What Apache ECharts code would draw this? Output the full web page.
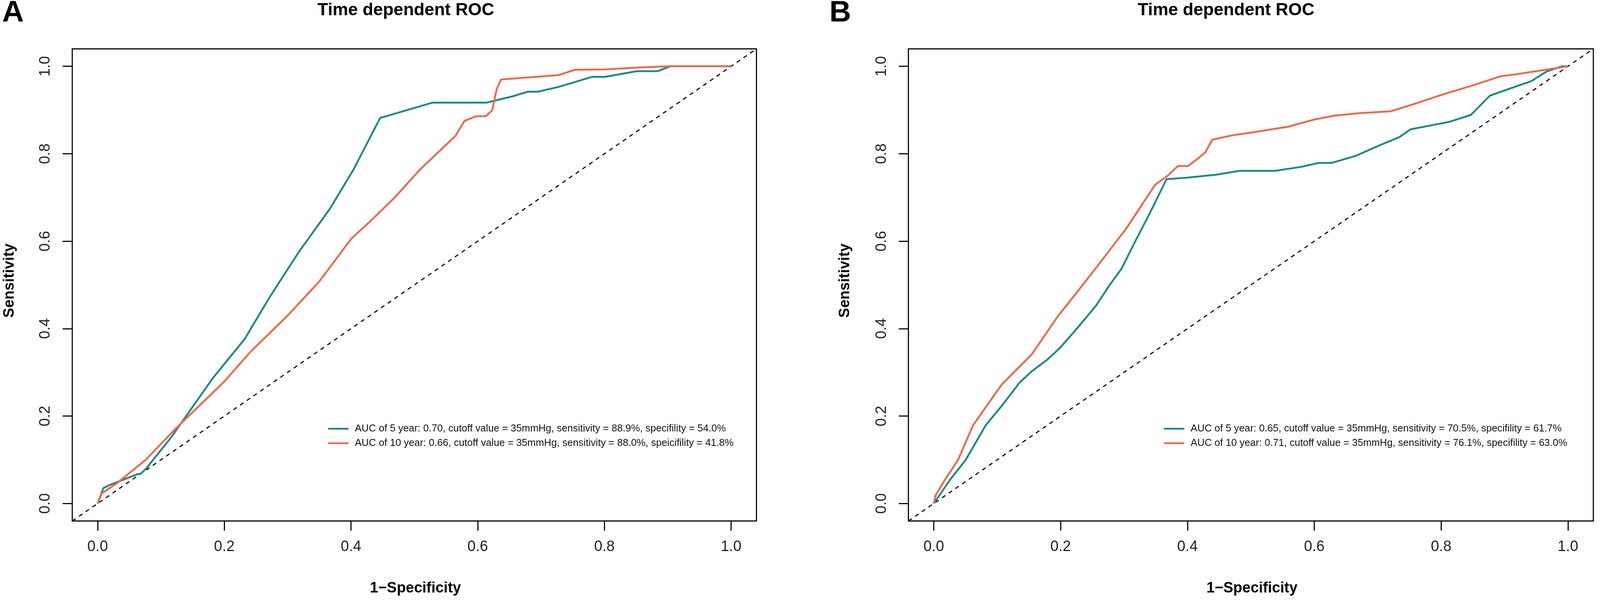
<!DOCTYPE html>
<html>
<head>
<meta charset="utf-8">
<script src="https://cdn.jsdelivr.net/npm/echarts@6.0.0/dist/echarts.min.js"></script>
<style>
html,body{margin:0;padding:0;background:#fff;overflow:hidden;}
#chart{width:100vw;height:100vh;}
</style>
</head>
<body>
<div id="chart"></div>
<script>
// ---------- data ----------
const tickValues = [0, 0.2, 0.4, 0.6, 0.8, 1.0];
const axisRange = [-0.04, 1.04];
const diagonal = [-0.04, 1.04];

const panelLabels = ['A', 'B'];
const panelTitles = ['Time dependent ROC', 'Time dependent ROC'];
const xTitle = '1\u2212Specificity';
const yTitle = 'Sensitivity';

const namesA = [
  'AUC of 5 year: 0.70, cutoff value = 35mmHg, sensitivity = 88.9%, specifility = 54.0%',
  'AUC of 10 year: 0.66, cutoff value = 35mmHg, sensitivity = 88.0%, speicifility = 41.8%'
];
const namesB = [
  'AUC of 5 year: 0.65, cutoff value = 35mmHg, sensitivity = 70.5%, specifility = 61.7%',
  'AUC of 10 year: 0.71, cutoff value = 35mmHg, sensitivity = 76.1%, specifility = 63.0%'
];

// Panel A, 5 year
const fprA5 = [0, 0.009, 0.020, 0.063, 0.068, 0.076, 0.116, 0.182, 0.232, 0.272, 0.317, 0.367, 0.404, 0.446, 0.529, 0.614, 0.654, 0.679, 0.695, 0.728, 0.781, 0.801, 0.851, 0.884, 0.904, 1.0];
const tprA5 = [0, 0.035, 0.043, 0.067, 0.068, 0.079, 0.151, 0.287, 0.376, 0.473, 0.574, 0.675, 0.764, 0.882, 0.917, 0.917, 0.931, 0.942, 0.942, 0.953, 0.976, 0.976, 0.989, 0.989, 1.0, 1.0];
// Panel A, 10 year
const fprA10 = [0, 0.0065, 0.031, 0.076, 0.123, 0.200, 0.240, 0.300, 0.350, 0.400, 0.430, 0.469, 0.509, 0.565, 0.579, 0.598, 0.613, 0.623, 0.630, 0.637, 0.728, 0.753, 0.800, 0.850, 0.900, 1.0];
const tprA10 = [0, 0.023, 0.047, 0.100, 0.171, 0.279, 0.345, 0.430, 0.508, 0.605, 0.645, 0.700, 0.764, 0.841, 0.875, 0.886, 0.886, 0.900, 0.948, 0.970, 0.980, 0.992, 0.993, 0.997, 1.0, 1.0];
// Panel B, 5 year
const fprB5 = [0, 0.026, 0.050, 0.082, 0.107, 0.135, 0.155, 0.179, 0.199, 0.228, 0.256, 0.276, 0.296, 0.316, 0.341, 0.367, 0.397, 0.445, 0.482, 0.538, 0.579, 0.607, 0.627, 0.665, 0.704, 0.734, 0.752, 0.813, 0.847, 0.877, 0.910, 0.942, 0.966, 0.990, 1.0];
const tprB5 = [0, 0.055, 0.099, 0.179, 0.223, 0.276, 0.303, 0.329, 0.356, 0.404, 0.453, 0.497, 0.537, 0.595, 0.665, 0.742, 0.745, 0.752, 0.761, 0.761, 0.770, 0.779, 0.779, 0.795, 0.820, 0.838, 0.856, 0.873, 0.889, 0.933, 0.950, 0.966, 0.988, 1.0, 1.0];
// Panel B, 10 year
const fprB10 = [0, 0.003, 0.018, 0.038, 0.062, 0.107, 0.155, 0.195, 0.236, 0.276, 0.304, 0.349, 0.369, 0.385, 0.401, 0.413, 0.428, 0.439, 0.470, 0.494, 0.559, 0.599, 0.631, 0.672, 0.720, 0.756, 0.801, 0.849, 0.893, 0.914, 0.946, 1.0];
const tprB10 = [0, 0.019, 0.055, 0.099, 0.179, 0.272, 0.342, 0.427, 0.502, 0.577, 0.630, 0.729, 0.750, 0.772, 0.772, 0.785, 0.803, 0.832, 0.842, 0.847, 0.862, 0.878, 0.887, 0.893, 0.897, 0.913, 0.935, 0.956, 0.977, 0.981, 0.988, 1.0];

// ---------- layout (designed for 4317 x 1548, scaled to the viewport) ----------
const el = document.getElementById('chart');
const W = el.clientWidth || window.innerWidth || 4317;
const H = el.clientHeight || window.innerHeight || 1548;
const sx = W / 4317, sy = H / 1548, sf = Math.min(sx, sy);
const X = v => v * sx, Y = v => v * sy, F = v => v * sf;

const TEAL = '#1c8a81';
const ORANGE = '#f1674a';
const FONT = 'Liberation Sans, Arial, Helvetica, sans-serif';
const grids = [
  {left: X(195), top: Y(125), width: X(1846), height: Y(1208)},
  {left: X(2451), top: Y(125), width: X(1848), height: Y(1208)}
];

const zip = (xs, ys) => xs.map((x, i) => [x, ys[i]]);

function makeAxis(gi, isY) {
  return {
    type: 'value', gridIndex: gi, min: axisRange[0], max: axisRange[1],
    axisLine: {show: false, onZero: false},
    splitLine: {show: false},
    axisTick: {show: true, inside: false, length: F(26), customValues: tickValues,
               lineStyle: {color: '#000', width: F(3)}},
    axisLabel: {show: true, customValues: tickValues, margin: F(isY ? 52 : 50), rotate: isY ? 90 : 0,
                formatter: v => v.toFixed(1),
                fontFamily: FONT, fontSize: F(40), color: '#222'}
  };
}
function curve(name, xs, ys, color, gi) {
  return {
    type: 'line', name: name, xAxisIndex: gi, yAxisIndex: gi,
    data: zip(xs, ys), symbol: 'none', smooth: false, animation: false,
    lineStyle: {color: color, width: F(5)}, itemStyle: {color: color},
    z: 3
  };
}
function diag(gi) {
  return {
    type: 'line', name: 'ref' + gi, xAxisIndex: gi, yAxisIndex: gi,
    data: zip(diagonal, diagonal), symbol: 'none', animation: false,
    lineStyle: {color: '#000', width: F(3), type: [F(11), F(11)]}, z: 2, silent: true
  };
}
function legendFor(names, left) {
  return {
    orient: 'vertical', left: X(left), top: Y(1079),
    data: names, icon: 'rect', itemWidth: X(55), itemHeight: F(5), itemGap: Y(11),
    selectedMode: false,
    textStyle: {fontFamily: FONT, fontSize: F(27), color: '#111', lineHeight: Y(26),
                padding: [0, 0, 0, X(12)]}
  };
}

const texts = [];
[ {x: 35, label: panelLabels[0], tx: 1095, title: panelTitles[0], gx: 1121, yx: 26},
  {x: 2267, label: panelLabels[1], tx: 3308, title: panelTitles[1], gx: 3378, yx: 2280} ].forEach(p => {
  texts.push({type: 'text', x: X(p.x), y: Y(34), style: {text: p.label, font: 'bold ' + F(81) + 'px ' + FONT, fill: '#000', align: 'center', verticalAlign: 'middle'}});
  texts.push({type: 'text', x: X(p.tx), y: Y(27), style: {text: p.title, font: 'bold ' + F(47) + 'px ' + FONT, fill: '#000', align: 'center', verticalAlign: 'middle'}});
  texts.push({type: 'text', x: X(p.gx), y: Y(1506), style: {text: xTitle, font: 'bold ' + F(40) + 'px ' + FONT, fill: '#000', align: 'center', verticalAlign: 'middle'}});
  texts.push({type: 'text', x: X(p.yx), y: Y(718), rotation: Math.PI / 2, style: {text: yTitle, font: 'bold ' + F(40) + 'px ' + FONT, fill: '#000', align: 'center', verticalAlign: 'middle'}});
});

const option = {
  backgroundColor: '#fff',
  animation: false,
  grid: grids.map(g => Object.assign({show: true, borderColor: '#000', borderWidth: F(3), backgroundColor: 'transparent'}, g)),
  xAxis: [makeAxis(0, false), makeAxis(1, false)],
  yAxis: [makeAxis(0, true), makeAxis(1, true)],
  legend: [legendFor(namesA, 880), legendFor(namesB, 3135)],
  series: [
    diag(0), diag(1),
    curve(namesA[0], fprA5, tprA5, TEAL, 0),
    curve(namesA[1], fprA10, tprA10, ORANGE, 0),
    curve(namesB[0], fprB5, tprB5, TEAL, 1),
    curve(namesB[1], fprB10, tprB10, ORANGE, 1)
  ],
  graphic: texts
};

const chart = echarts.init(el, null, {renderer: 'canvas'});
chart.setOption(option);
</script>
</body>
</html>
